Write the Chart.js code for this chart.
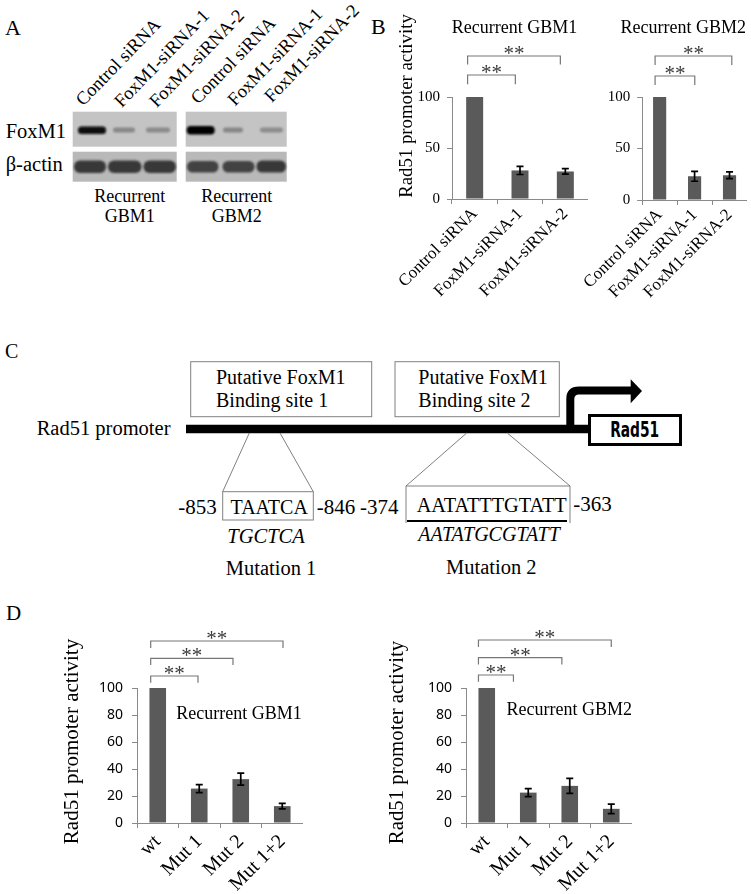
<!DOCTYPE html>
<html><head><meta charset="utf-8">
<script src="https://cdn.jsdelivr.net/npm/chart.js@4.4.1/dist/chart.umd.min.js"></script>
<style>
html,body{margin:0;padding:0;background:#fff;}
#fig{position:relative;width:751px;height:894px;overflow:hidden;background:#fff;}
#fig svg{position:absolute;left:0;top:0;}
#fig canvas{position:absolute;}
</style></head><body>
<div id="fig">
<svg width="751" height="894" xmlns="http://www.w3.org/2000/svg" font-family="'Liberation Serif','Times New Roman',serif" fill="#000">
  <defs><filter id="blur" x="-20%" y="-50%" width="140%" height="200%"><feGaussianBlur stdDeviation="1.2"/></filter></defs>
  <!-- panel letters -->
  <text x="5" y="35" font-size="22">A</text>
  <text x="371" y="34" font-size="22">B</text>
  <text x="5" y="358" font-size="20">C</text>
  <text x="6" y="620" font-size="21">D</text>

  <!-- Panel A -->
  <g font-size="18.5">
    <text transform="translate(83.3,106.7) rotate(-46)">Control siRNA</text>
    <text transform="translate(121.7,108.3) rotate(-46)">FoxM1-siRNA-1</text>
    <text transform="translate(156.7,108.3) rotate(-46)">FoxM1-siRNA-2</text>
    <text transform="translate(198.3,105) rotate(-46)">Control siRNA</text>
    <text transform="translate(235,106.7) rotate(-46)">FoxM1-siRNA-1</text>
    <text transform="translate(271.7,103.3) rotate(-46)">FoxM1-siRNA-2</text>
  </g>
  <text x="5.7" y="138.3" font-size="20.5">FoxM1</text>
  <text x="5.7" y="170.5" font-size="20.5">β-actin</text>
  <rect x="72.7" y="111.7" width="104" height="35" fill="#c4c4c4"/>
  <rect x="185.7" y="111.7" width="101" height="35" fill="#c4c4c4"/>
  <rect x="72.7" y="151.7" width="104" height="30" fill="#b9b9b9"/>
  <rect x="185.7" y="151.7" width="101" height="30" fill="#b9b9b9"/>
  <g filter="url(#blur)">
    <rect x="78" y="126.5" width="28" height="7.5" rx="3.5" fill="#080808"/>
    <rect x="113" y="127.5" width="22" height="5" rx="2.5" fill="#878787"/>
    <rect x="146" y="127.5" width="24" height="5" rx="2.5" fill="#8a8a8a"/>
    <rect x="186.7" y="126" width="28" height="8.5" rx="4" fill="#060606"/>
    <rect x="223" y="127.5" width="20" height="5" rx="2.5" fill="#868686"/>
    <rect x="260" y="127.5" width="23" height="5" rx="2.5" fill="#8c8c8c"/>
    <rect x="74" y="160.5" width="32" height="12.5" rx="6" fill="#383838"/>
    <rect x="108" y="160.5" width="33.5" height="12.5" rx="6" fill="#383838"/>
    <rect x="143.5" y="160.5" width="32.5" height="12.5" rx="6" fill="#383838"/>
    <rect x="187" y="161" width="31.5" height="11.5" rx="5.5" fill="#424242"/>
    <rect x="222.5" y="161" width="32" height="11.5" rx="5.5" fill="#424242"/>
    <rect x="256.5" y="160.5" width="29.5" height="12" rx="5.5" fill="#383838"/>
  </g>
  <g font-size="18" text-anchor="middle">
    <text x="129.7" y="201.7">Recurrent</text>
    <text x="129.7" y="222.3">GBM1</text>
    <text x="236.7" y="201.7">Recurrent</text>
    <text x="236.7" y="222.3">GBM2</text>
  </g>

  <!-- Panel C -->
  <rect x="190.7" y="361.7" width="181" height="55" fill="none" stroke="#808080" stroke-width="1"/>
  <rect x="395" y="361.7" width="164.3" height="55" fill="none" stroke="#808080" stroke-width="1"/>
  <g font-size="20">
    <text x="216" y="384">Putative FoxM1</text>
    <text x="216" y="406.7">Binding site 1</text>
    <text x="418.3" y="384">Putative FoxM1</text>
    <text x="418.3" y="406.7">Binding site 2</text>
  </g>
  <text x="36.7" y="435" font-size="20.5">Rad51 promoter</text>
  <line x1="186" y1="429" x2="590" y2="429" stroke="#000" stroke-width="8.5"/>
  <path d="M570.3,429 V399 Q570.3,390.5 579,390.5 H632" fill="none" stroke="#000" stroke-width="8"/>
  <polygon points="630.7,379.3 642,391 630.7,403.3" fill="#000"/>
  <rect x="589.5" y="415.5" width="91" height="29" fill="#fff" stroke="#000" stroke-width="3"/>
  <text x="634.7" y="437" font-size="21" font-weight="bold" font-family="'DejaVu Sans Condensed','Liberation Sans',sans-serif" text-anchor="middle" textLength="49" lengthAdjust="spacingAndGlyphs">Rad51</text>
  <g stroke="#808080" stroke-width="1" fill="none">
    <line x1="249.3" y1="433" x2="222.7" y2="491.7"/>
    <line x1="280" y1="433" x2="313.3" y2="491.7"/>
    <rect x="222.7" y="491.7" width="90.6" height="28.3"/>
    <line x1="466.7" y1="433" x2="406" y2="486"/>
    <line x1="507.3" y1="433" x2="570" y2="486"/>
    <line x1="406" y1="486" x2="570" y2="486"/>
    <line x1="406" y1="486" x2="406" y2="523"/>
    <line x1="570" y1="486" x2="570" y2="523"/>
  </g>
  <line x1="407" y1="521" x2="567" y2="521" stroke="#000" stroke-width="2"/>
  <g font-size="21">
    <text x="216.7" y="514" text-anchor="end">-853</text>
    <text x="269.2" y="514" text-anchor="middle" font-size="20">TAATCA</text>
    <text x="316.7" y="514">-846</text>
    <text x="398.5" y="514" text-anchor="end">-374</text>
    <text x="491.7" y="512" text-anchor="middle" textLength="150" lengthAdjust="spacingAndGlyphs" font-size="20">AATATTTGTATT</text>
    <text x="573.3" y="511">-363</text>
    <text x="266" y="542.5" text-anchor="middle" font-style="italic" font-size="20.5">TGCTCA</text>
    <text x="489" y="541" text-anchor="middle" font-style="italic" font-size="20">AATATGCGTATT</text>
    <text x="271" y="575" text-anchor="middle" font-size="20.5">Mutation 1</text>
    <text x="491.3" y="574" text-anchor="middle" font-size="20.5">Mutation 2</text>
  </g>
</svg>
<canvas id="cB1" width="208" height="312" style="left:380px;top:0px"></canvas>
<canvas id="cB2" width="167" height="312" style="left:580px;top:0px"></canvas>
<canvas id="cD1" width="263" height="294" style="left:40px;top:600px"></canvas>
<canvas id="cD2" width="252" height="294" style="left:380px;top:600px"></canvas>
</div>
<script>
// ---- data ----
const siRnaCategories = ['Control siRNA', 'FoxM1-siRNA-1', 'FoxM1-siRNA-2'];
const siRnaGbm1Values = [100, 28, 27];
const siRnaGbm1Errors = [0, 4, 2.7];
const siRnaGbm2Values = [100, 23, 24];
const siRnaGbm2Errors = [0, 4.8, 3.3];
const mutCategories = ['wt', 'Mut 1', 'Mut 2', 'Mut 1+2'];
const mutGbm1Values = [100, 25.5, 32.5, 12.5];
const mutGbm1Errors = [0, 3, 4.5, 2];
const mutGbm2Values = [100, 22.5, 27.5, 10.5];
const mutGbm2Errors = [0, 3, 5.5, 3.5];
const siRnaTicks = [0, 50, 100];
const mutTicks = [0, 20, 40, 60, 80, 100];
const yAxisLabel = 'Rad51 promoter activity';
const sigMark = '**';

const BAR = '#5a5a5a';
const AXIS = '#8a8a8a';
const SERIF = "'Liberation Serif','Times New Roman',serif";

const annot = {
  id: 'annot',
  afterDatasetsDraw(chart, args, o) {
    const ctx = chart.ctx, xs = chart.scales.x, ys = chart.scales.y;
    const meta = chart.getDatasetMeta(0);
    const vals = chart.data.datasets[0].data;
    const ox = o.left, oy = o.top;
    ctx.save();
    ctx.strokeStyle = '#000'; ctx.lineWidth = 1.7;
    o.errors.forEach((e, i) => {
      if (!e) return;
      const x = meta.data[i].x;
      const y1 = ys.getPixelForValue(vals[i] + e), y2 = ys.getPixelForValue(vals[i] - e);
      ctx.beginPath();
      ctx.moveTo(x, y1); ctx.lineTo(x, y2);
      ctx.moveTo(x - 3.5, y1); ctx.lineTo(x + 3.5, y1);
      ctx.moveTo(x - 3.5, y2); ctx.lineTo(x + 3.5, y2);
      ctx.stroke();
    });
    o.brackets.forEach(b => {
      const x1 = xs.getPixelForValue(b.from), x2 = xs.getPixelForValue(b.to);
      const y = b.y - oy, yl = b.leg - oy;
      ctx.strokeStyle = '#777'; ctx.lineWidth = 1.2;
      ctx.beginPath(); ctx.moveTo(x1, yl); ctx.lineTo(x1, y); ctx.lineTo(x2, y); ctx.lineTo(x2, yl); ctx.stroke();
      ctx.fillStyle = '#3a3a3a'; ctx.font = '21px ' + SERIF;
      ctx.textAlign = 'center'; ctx.textBaseline = 'alphabetic';
      ctx.fillText(sigMark, (x1 + x2) / 2, y + 4);
    });
    ctx.fillStyle = '#000';
    if (o.title) {
      ctx.font = o.title.size + 'px ' + SERIF;
      ctx.textAlign = 'center'; ctx.textBaseline = 'alphabetic';
      ctx.fillText(o.title.text, o.title.x - ox, o.title.y - oy);
    }
    if (o.ylabel) {
      ctx.save();
      ctx.translate(o.ylabel.x - ox, o.ylabel.y - oy);
      ctx.rotate(-Math.PI / 2);
      ctx.font = o.ylabel.size + 'px ' + SERIF;
      ctx.textAlign = 'center'; ctx.textBaseline = 'alphabetic';
      ctx.fillText(yAxisLabel, 0, 0);
      ctx.restore();
    }
    ctx.restore();
  }
};

function makeChart(id, c) {
  return new Chart(document.getElementById(id), {
    type: 'bar',
    data: { labels: c.labels, datasets: [{ data: c.values, backgroundColor: BAR, borderWidth: 0, barPercentage: c.barPct, categoryPercentage: 1 }] },
    options: {
      responsive: false, animation: false, devicePixelRatio: 1,
      layout: { padding: { top: c.padTop, left: 0, right: 0, bottom: 0 }, autoPadding: false },
      plugins: { legend: { display: false }, tooltip: { enabled: false }, annot: c.annot },
      scales: {
        x: {
          grid: { offset: true, drawOnChartArea: false, drawTicks: true, tickLength: 5, color: AXIS },
          border: { color: AXIS, width: 1 },
          ticks: { minRotation: 45, maxRotation: 45, autoSkip: false, color: '#000', padding: c.xPad, font: { family: SERIF, size: c.xFont } },
          afterFit(s) { s.height = c.xHeight; }
        },
        y: {
          min: 0, max: 100,
          afterBuildTicks(s) { s.ticks = c.ticks.map(v => ({ value: v })); },
          grid: { drawOnChartArea: false, drawTicks: true, tickLength: 5, color: AXIS },
          border: { color: AXIS, width: 1 },
          ticks: { color: '#000', padding: c.yPad, font: c.yFontObj },
          afterFit(s) { s.width = c.yWidth; }
        }
      }
    },
    plugins: [annot]
  });
}

makeChart('cB1', {
  labels: siRnaCategories, values: siRnaGbm1Values, barPct: 0.375, padTop: 97, xHeight: 113, yWidth: 72,
  ticks: siRnaTicks, xPad: 0, xFont: 17, yPad: 7, yFontObj: { family: SERIF, size: 15 },
  annot: { left: 380, top: 0, errors: siRnaGbm1Errors,
    brackets: [ { from: -0.156, to: 0.897, y: 75, leg: 84.3 }, { from: -0.156, to: 1.89, y: 56, leg: 64.5 } ],
    title: { text: 'Recurrent GBM1', x: 514.5, y: 33.3, size: 18 },
    ylabel: { x: 411.7, y: 106, size: 18.8 } }
});
makeChart('cB2', {
  labels: siRnaCategories, values: siRnaGbm2Values, barPct: 0.376, padTop: 97, xHeight: 112, yWidth: 39,
  ticks: siRnaTicks, xPad: 0, xFont: 17, yPad: 7, yFontObj: { family: SERIF, size: 15 },
  annot: { left: 580, top: 0, errors: siRnaGbm2Errors,
    brackets: [ { from: -0.13, to: 1.006, y: 76, leg: 85 }, { from: -0.13, to: 2.065, y: 56, leg: 65 } ],
    title: { text: 'Recurrent GBM2', x: 683.3, y: 33.3, size: 18 } }
});
makeChart('cD1', {
  labels: mutCategories, values: mutGbm1Values, barPct: 0.4, padTop: 88, xHeight: 71, yWidth: 97,
  ticks: mutTicks, xPad: 2, xFont: 20, yPad: 9, yFontObj: { family: "'Noto Sans',sans-serif", size: 14 },
  annot: { left: 40, top: 600, errors: mutGbm1Errors,
    brackets: [ { from: -0.17, to: 0.97, y: 676, leg: 682.7 }, { from: -0.17, to: 1.813, y: 658.3, leg: 665 }, { from: -0.17, to: 3.018, y: 641, leg: 648 } ],
    title: { text: 'Recurrent GBM1', x: 238.9, y: 718.5, size: 18 },
    ylabel: { x: 78.3, y: 741.5, size: 21 } }
});
makeChart('cD2', {
  labels: mutCategories, values: mutGbm2Values, barPct: 0.4, padTop: 88, xHeight: 71, yWidth: 86,
  ticks: mutTicks, xPad: 2, xFont: 20, yPad: 9, yFontObj: { family: "'Noto Sans',sans-serif", size: 14 },
  annot: { left: 380, top: 600, errors: mutGbm2Errors,
    brackets: [ { from: -0.2, to: 0.643, y: 675, leg: 681.7 }, { from: -0.2, to: 1.81, y: 657.7, leg: 664.5 }, { from: -0.2, to: 3.0, y: 640, leg: 647 } ],
    title: { text: 'Recurrent GBM2', x: 569.2, y: 715, size: 18 },
    ylabel: { x: 403.3, y: 742.5, size: 20.8 } }
});
</script>
</body></html>
